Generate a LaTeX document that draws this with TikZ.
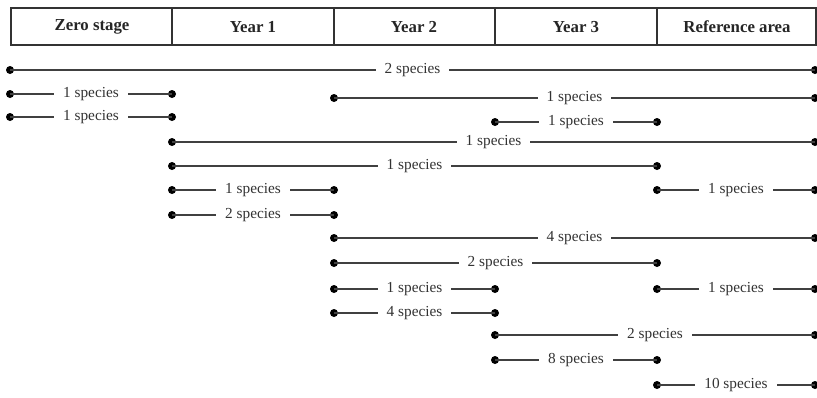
\documentclass[tikz,border=0pt]{standalone}
\usepackage{fontspec}
\setmainfont{Liberation Serif}
\begin{document}
\begin{tikzpicture}[x=1pt,y=-1pt,
  hdr/.style={font=\fontsize{16.8}{19}\selectfont\bfseries, text=black!85},
  dot/.style={circle, fill=black, inner sep=0pt, minimum size=8pt},
  lbl/.style={fill=white, inner xsep=9pt, inner ysep=1pt, text=black!80, font=\fontsize{15.3}{18}\selectfont},
  span/.style={draw=black!75, line width=1.5pt}]
\useasboundingbox (0,0) rectangle (817,397);
% header
\draw[black!80, line width=1.1pt] (11,8) rectangle (816,45);
\foreach \x in {172,334,495,657} \draw[black!80, line width=1.1pt] (\x,8) -- (\x,45);
\node[hdr] (h0) at (92,27) {Zero stage};
\node[hdr] (h1) at (253,27) {Year 1};
\node[hdr] (h2) at (414,27) {Year 2};
\node[hdr] (h3) at (576,27) {Year 3};
\node[hdr] (h4) at (737,27) {Reference area};
% rows: name, x1, x2, y, label
\foreach \n/\a/\b/\y/\t in {
  r1/10/815/70/2 species,
  r2/10/172/94/1 species,
  r3/334/815/98/1 species,
  r4/10/172/117/1 species,
  r5/495/657/122/1 species,
  r6/172/815/142/1 species,
  r7/172/657/166/1 species,
  r8/172/334/190/1 species,
  r9/657/815/190/1 species,
  r10/172/334/215/2 species,
  r11/334/815/238/4 species,
  r12/334/657/263/2 species,
  r13/334/495/289/1 species,
  r14/657/815/289/1 species,
  r15/334/495/313/4 species,
  r16/495/815/335/2 species,
  r17/495/657/360/8 species,
  r18/657/815/385/10 species}{
  \node[dot] (\n a) at (\a,\y) {};
  \node[dot] (\n b) at (\b,\y) {};
  \draw[span] (\n a.center) -- node[lbl] (\n l) {\t} (\n b.center);
}
\end{tikzpicture}
\end{document}
